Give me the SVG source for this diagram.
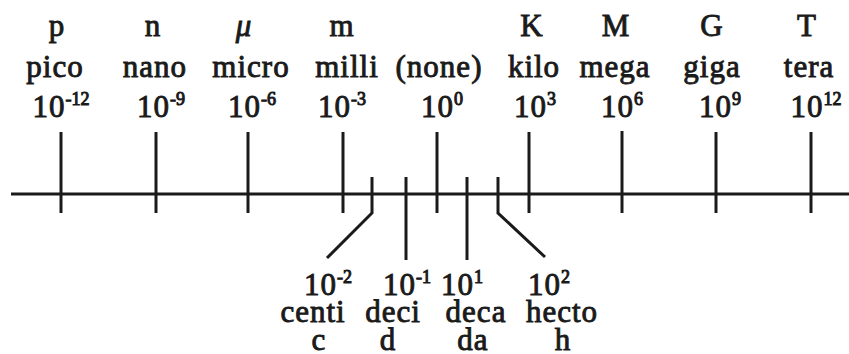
<svg xmlns="http://www.w3.org/2000/svg" width="849" height="354" viewBox="0 0 849 354">
<style>
text{font-family:"Liberation Serif","Times New Roman",serif;font-size:31px;fill:#1a1a1a;stroke:#1a1a1a;stroke-width:0.9;text-anchor:middle;letter-spacing:1px}
.sup{font-size:18px;letter-spacing:0;stroke-width:1}
line,polyline{stroke:#1a1a1a;stroke-width:3;fill:none}
</style>
<rect width="849" height="354" fill="#fff"/>
<g id="connectors">
<line x1="11" y1="194" x2="849" y2="194"/>
<line x1="61" y1="132" x2="61" y2="213"/>
<line x1="156" y1="132" x2="156" y2="213"/>
<line x1="248" y1="132" x2="248" y2="213"/>
<line x1="343" y1="132" x2="343" y2="213"/>
<line x1="437" y1="132" x2="437" y2="213"/>
<line x1="529" y1="132" x2="529" y2="213"/>
<line x1="622" y1="131" x2="622" y2="213"/>
<line x1="716" y1="132" x2="716" y2="213"/>
<line x1="811" y1="132" x2="811" y2="213"/>
<polyline points="372,177 372,213 327,258"/>
<line x1="406" y1="177" x2="406" y2="260"/>
<line x1="467" y1="177" x2="467" y2="260"/>
<polyline points="498,177 498,213 545,257"/>
</g>
<g id="pico"><text x="57" y="36">p</text><text x="55" y="77">pico</text><text x="61" y="117">10<tspan class="sup" dy="-12">-12</tspan></text></g>
<g id="nano"><text x="153" y="36">n</text><text x="155" y="77">nano</text><text x="161" y="117">10<tspan class="sup" dy="-12">-9</tspan></text></g>
<g id="micro"><text x="244" y="36" font-style="italic">μ</text><text x="251" y="77">micro</text><text x="252" y="117">10<tspan class="sup" dy="-12">-6</tspan></text></g>
<g id="milli"><text x="342" y="36">m</text><text x="347" y="77">milli</text><text x="342" y="117">10<tspan class="sup" dy="-12">-3</tspan></text></g>
<g id="none"><text x="439" y="77">(none)</text><text x="442" y="117">10<tspan class="sup" dy="-12">0</tspan></text></g>
<g id="kilo"><text x="532" y="36">K</text><text x="534" y="77">kilo</text><text x="535" y="117">10<tspan class="sup" dy="-12">3</tspan></text></g>
<g id="mega"><text x="616" y="36">M</text><text x="615" y="77">mega</text><text x="622" y="117">10<tspan class="sup" dy="-12">6</tspan></text></g>
<g id="giga"><text x="712" y="36">G</text><text x="712" y="77">giga</text><text x="720" y="117">10<tspan class="sup" dy="-12">9</tspan></text></g>
<g id="tera"><text x="807" y="36">T</text><text x="809" y="77">tera</text><text x="816" y="117">10<tspan class="sup" dy="-12">12</tspan></text></g>
<g id="centi"><text x="328" y="295">10<tspan class="sup" dy="-12">-2</tspan></text><text x="313" y="322">centi</text><text x="319" y="350">c</text></g>
<g id="deci"><text x="407" y="295">10<tspan class="sup" dy="-12">-1</tspan></text><text x="393" y="322">deci</text><text x="388" y="350">d</text></g>
<g id="deca"><text x="462" y="295">10<tspan class="sup" dy="-12">1</tspan></text><text x="476" y="322">deca</text><text x="473" y="350">da</text></g>
<g id="hecto"><text x="549" y="295">10<tspan class="sup" dy="-12">2</tspan></text><text x="562" y="322">hecto</text><text x="563" y="350">h</text></g>
</svg>
